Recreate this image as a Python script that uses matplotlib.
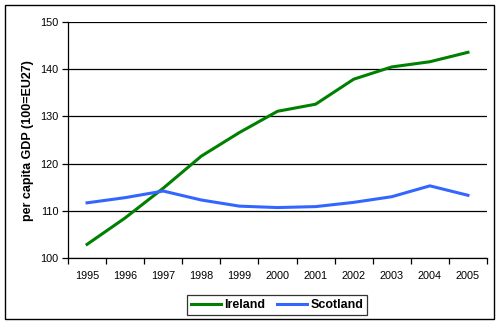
import matplotlib
matplotlib.use("Agg")
import matplotlib.pyplot as plt
from matplotlib.patches import Rectangle

years = ["1995", "1996", "1997", "1998", "1999", "2000",
         "2001", "2002", "2003", "2004", "2005"]
ireland = [102.9, 108.5, 114.8, 121.6, 126.6, 131.1, 132.6, 137.9, 140.5, 141.6, 143.6]
scotland = [111.7, 112.8, 114.2, 112.3, 111.0, 110.7, 110.9, 111.8, 113.0, 115.3, 113.3]

plt.rcParams["font.family"] = ["Liberation Sans", "DejaVu Sans"]

fig = plt.figure(figsize=(5, 3.25), dpi=100)
ax = fig.add_axes([0.136, 0.206, 0.838, 0.726])

x = list(range(len(years)))
ax.plot(x, ireland, color="#008000", lw=2.2, label="Ireland")
ax.plot(x, scotland, color="#3366FF", lw=2.2, label="Scotland")

ax.set_xlim(-0.5, len(years) - 0.5)
ax.set_ylim(100, 150)
ax.set_yticks(range(100, 151, 10))
ax.yaxis.grid(True, color="black", lw=0.9)
ax.set_axisbelow(True)

# category labels centred, tick marks on the boundaries
ax.set_xticks(x)
ax.set_xticklabels(years, fontsize=7.8)
ax.set_xticks([i - 0.5 for i in range(len(years) + 1)], minor=True)
ax.tick_params(axis="x", which="major", length=0, pad=9)
ax.tick_params(axis="x", which="minor", length=4, width=0.9, direction="out")
ax.tick_params(axis="y", length=4, width=0.9, labelsize=7.8, pad=3)

for side in ("top", "right"):
    ax.spines[side].set_visible(False)
for side in ("left", "bottom"):
    ax.spines[side].set_linewidth(0.9)

ax.set_ylabel("per capita GDP (100=EU27)", fontsize=9, fontweight="bold", labelpad=4)

leg = fig.legend(loc="center", bbox_to_anchor=(0.554, 0.0615), ncol=2,
                 prop={"weight": "bold", "size": 9}, frameon=True, fancybox=False,
                 handlelength=2.4, columnspacing=0.9, handletextpad=0.3,
                 borderpad=0.3, borderaxespad=0)
leg.get_frame().set_edgecolor("black")
leg.get_frame().set_linewidth(0.9)

fig.patches.append(Rectangle((0.01, 0.02), 0.977, 0.966, transform=fig.transFigure,
                             fill=False, edgecolor="black", lw=1.0))

fig.savefig("out.png", dpi=100)
